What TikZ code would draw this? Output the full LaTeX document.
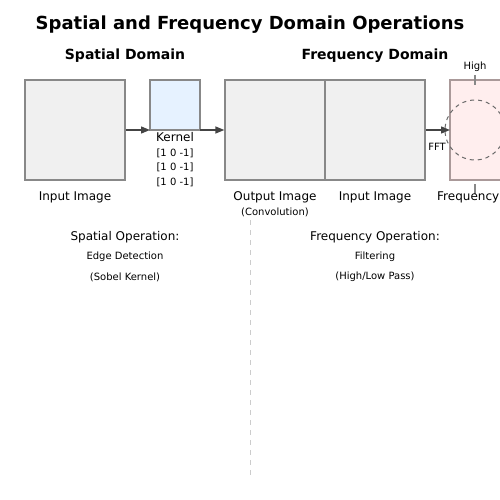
\documentclass[tikz,border=0pt]{standalone}
\usepackage{fontspec}
\setmainfont{DejaVu Sans}
\usetikzlibrary{arrows.meta}
\definecolor{boxgray}{HTML}{F0F0F0}
\definecolor{boxline}{HTML}{888888}
\definecolor{kernfill}{HTML}{E6F2FF}
\definecolor{freqfill}{HTML}{FFEEEE}
\definecolor{freqline}{HTML}{AA9999}
\definecolor{arrowc}{HTML}{444444}
\definecolor{sepc}{HTML}{CCCCCC}
\tikzset{
  imgbox/.style={draw=boxline, fill=boxgray, line width=1.3pt, minimum width=100pt, minimum height=100pt, inner sep=0pt},
  kernbox/.style={draw=boxline, fill=kernfill, line width=1.3pt, minimum width=50pt, minimum height=50pt, inner sep=0pt},
  freqbox/.style={draw=freqline, fill=freqfill, line width=1.3pt, minimum width=100pt, minimum height=100pt, inner sep=0pt},
  conn/.style={draw=arrowc, line width=1.3pt, -{Triangle[length=9pt,width=7pt]}},
  lbl/.style={inner sep=0pt, font=\fontsize{12}{14}\selectfont},
  small/.style={inner sep=0pt, font=\fontsize{10}{12}\selectfont},
  head/.style={inner sep=0pt, font=\fontsize{14}{17}\selectfont\bfseries},
}
\begin{document}
\begin{tikzpicture}[x=1pt,y=-1pt]
\useasboundingbox (0,0) rectangle (500,500);
\clip (0,0) rectangle (500,500);
\fill[white] (0,0) rectangle (500,500);
\node[inner sep=0pt, font=\fontsize{18}{21}\selectfont\bfseries] (title) at (250,25) {Spatial and Frequency Domain Operations};
\node[head] (sd) at (125,56) {Spatial Domain};
\node[head] (fd) at (375,56) {Frequency Domain};
% boxes
\node[imgbox] (in1) at (75,130) {};
\node[kernbox] (kern) at (175,105) {};
\node[imgbox] (out) at (275,130) {};
\node[imgbox] (in2) at (375,130) {};
\node[freqbox] (freq) at (500,130) {};
% connectors
\coordinate (kw) at (150,130);
\coordinate (ke) at (200,130);
\coordinate (fw) at (450,130);
\draw[conn] (in1.east) -- (kw);
\draw[conn] (ke) -- (out.west);
\draw[conn] (in2.east) -- (fw);
% frequency details
\node[draw=arrowc!80, dashed, dash pattern=on 4pt off 4pt, line width=1pt, circle, minimum size=60pt, inner sep=0pt] (circ) at (475,130) {};
\coordinate (t1a) at (475,75); \coordinate (t1b) at (475,85);
\coordinate (t2a) at (475,184); \coordinate (t2b) at (475,194);
\draw[boxline, line width=1.3pt] (t1a) -- (t1b);
\draw[boxline, line width=1.3pt] (t2a) -- (t2b);
\node[small] (high) at (475,67) {High};
\node[small] (fft) at (437,147) {FFT};
% labels
\node[lbl] (l1) at (75,197) {Input Image};
\node[lbl] (kl) at (175,137) {Kernel};
\node[small] (k1) at (175,153) {[1 0 -1]};
\node[small] (k2) at (175,167) {[1 0 -1]};
\node[small] (k3) at (175,182) {[1 0 -1]};
\node[lbl] (l2) at (275,197) {Output Image};
\node[small] (conv) at (275,212) {(Convolution)};
\node[lbl] (l3) at (375,197) {Input Image};
\node[lbl, anchor=west] (l4) at (437,197) {Frequency};
% operations
\node[lbl] (so) at (125,237) {Spatial Operation:};
\node[small] (ed) at (125,257) {Edge Detection};
\node[small] (sk) at (125,277) {(Sobel Kernel)};
\node[lbl] (fo) at (375,237) {Frequency Operation:};
\node[small] (fi) at (375,257) {Filtering};
\node[small] (hl) at (375,277) {(High/Low Pass)};
% separator
\coordinate (sa) at (250,220); \coordinate (sb) at (250,475);
\draw[sepc, line width=1pt, dash pattern=on 5pt off 5pt] (sa) -- (sb);
\end{tikzpicture}
\end{document}
